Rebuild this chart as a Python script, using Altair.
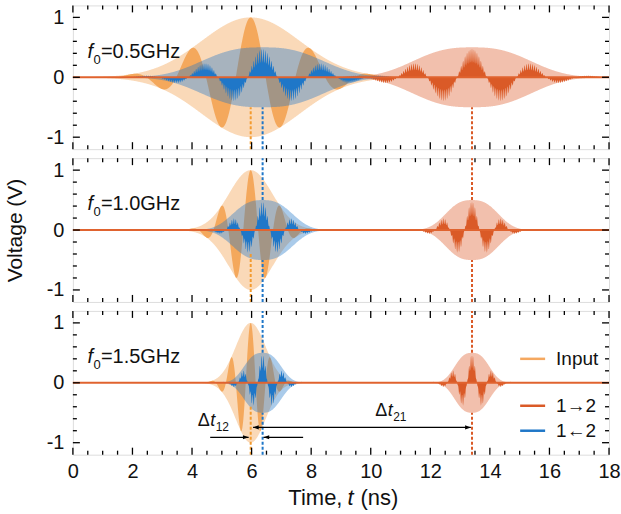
import numpy as np
import pandas as pd
import altair as alt

FONT = "Liberation Sans"

# ---------------- values ----------------
f0_ghz = [0.5, 1.0, 1.5]
f0_text = ["=0.5GHz", "=1.0GHz", "=1.5GHz"]

input_center_ns = 5.97
input_peak_v = 1.0
input_sigma_ns = [1.65, 0.73, 0.50]

back_center_ns = 6.37      # 1<-2
fwd_center_ns = 13.40      # 1->2
out_env_peak_v = 0.50
back_env_width_ns = [2.45, 1.20, 0.75]
fwd_env_width_ns = [2.37, 1.06, 0.70]
out_env_order = 2.7
out_lobe_peak_v = 0.48
ripple_ghz = 15.0
ripple_depth = 0.5

# dashed marker segments (V)
input_marker = [[(-1.2, -0.50)], [(-1.2, -0.38)], [(-1.2, -0.40)]]
back_marker = [[(-1.2, -0.50)], [(-1.2, -0.50), (0.50, 1.2)], [(-1.2, -0.50), (0.50, 1.2)]]
fwd_marker = [[(-1.2, -0.50)], [(-1.2, -0.50), (0.50, 1.2)], [(-1.2, -0.50), (0.50, 1.2)]]

x_major = [0, 2, 4, 6, 8, 10, 12, 14, 16, 18]
x_minor = [k * 0.5 for k in range(37) if k % 4 != 0]
y_major = [-1, 0, 1]
y_minor = [-0.8, -0.6, -0.4, -0.2, 0.2, 0.4, 0.6, 0.8]

# colours
C_IN = "#F39B45"
C_IN_DASH = "#F39B2F"
C_BACK = "#1F77C8"
C_FWD = "#DA5A27"
C_FWD_ENV = "#DC5A28"

W, H = 537, 144
xscale = alt.Scale(domain=[0, 18], nice=False, zero=False)
yscale = alt.Scale(domain=[-1.2, 1.2], nice=False, zero=False)


def build_df(i):
    f = f0_ghz[i]
    sig = input_sigma_ns[i]
    t = np.round(np.arange(0, 1801) * 0.01, 2)
    ti = t - input_center_ns
    ie = input_peak_v * np.exp(-ti ** 2 / (2 * sig ** 2))
    isg = ie * np.cos(2 * np.pi * f * ti)

    def out(c, w):
        d = t - c
        env = out_env_peak_v * np.exp(-(np.abs(d) / w) ** out_env_order)
        rip = 1 - ripple_depth * (0.5 + 0.5 * np.cos(2 * np.pi * ripple_ghz * d))
        s = out_lobe_peak_v * np.exp(-d ** 2 / (2 * sig ** 2)) * np.cos(2 * np.pi * f * d) * rip
        return env, s

    be, bs = out(back_center_ns, back_env_width_ns[i])
    fe, fs = out(fwd_center_ns, fwd_env_width_ns[i])
    df = pd.DataFrame({"t": t, "ie": ie, "ien": -ie, "is": isg,
                       "be": be, "ben": -be, "bs": bs,
                       "fe": fe, "fen": -fe, "fs": fs}).round(4)
    keep = (df[["ie", "be", "fe"]].abs().max(axis=1) > 2e-3)
    keep = keep | keep.shift(1, fill_value=True) | keep.shift(-1, fill_value=True)
    return df[keep].reset_index(drop=True)


def make_panel(i):
    last = (i == 2)
    xaxis = alt.Axis(values=x_major, ticks=False, domain=False, grid=False, title=None,
                     labelFontSize=20, labelPadding=7, labelColor="#111", labelFont=FONT,
                     labelFlush=False, labelOverlap=False) if last else None
    yaxis = alt.Axis(values=y_major, ticks=False, domain=False, grid=False,
                     title="Voltage (V)" if i == 1 else None,
                     titleFontSize=21, titleFontWeight="normal", titlePadding=21,
                     titleFont=FONT, titleColor="#111",
                     labelFontSize=20, labelPadding=9, labelColor="#111", labelFont=FONT,
                     labelExpr="replace(datum.label, '\u2212', '-')")

    def X(f):
        return alt.X(f"{f}:Q", scale=xscale, axis=xaxis)

    def Y(f):
        return alt.Y(f"{f}:Q", scale=yscale, axis=yaxis)

    df = build_df(i)
    base = alt.Chart(df)
    layers = [
        base.mark_area(color=C_IN, opacity=0.38, orient="vertical").encode(x=X("t"), y=Y("ie"), y2="ien:Q"),
        base.mark_area(color=C_IN, opacity=0.8, orient="vertical").encode(x=X("t"), y=Y("is"), y2=alt.datum(0)),
        base.mark_area(color=C_FWD_ENV, opacity=0.38, orient="vertical").encode(x=X("t"), y=Y("fe"), y2="fen:Q"),
        base.mark_area(color=C_FWD, opacity=1.0, orient="vertical").encode(x=X("t"), y=Y("fs"), y2=alt.datum(0)),
        base.mark_area(color=C_BACK, opacity=0.38, orient="vertical").encode(x=X("t"), y=Y("be"), y2="ben:Q"),
        base.mark_area(color=C_BACK, opacity=1.0, orient="vertical").encode(x=X("t"), y=Y("bs"), y2=alt.datum(0)),
    ]

    # dashed centre markers
    rows = []
    for (a, b) in input_marker[i]:
        rows.append({"t": input_center_ns, "v": a, "v2": b, "c": C_IN_DASH})
    for (a, b) in back_marker[i]:
        rows.append({"t": back_center_ns, "v": a, "v2": b, "c": C_BACK})
    for (a, b) in fwd_marker[i]:
        rows.append({"t": fwd_center_ns, "v": a, "v2": b, "c": C_FWD})
    layers.append(alt.Chart(pd.DataFrame(rows)).mark_rule(strokeDash=[3, 2], strokeWidth=2).encode(
        x=X("t"), y=Y("v"), y2="v2:Q", color=alt.Color("c:N", scale=None)))

    # zero line
    layers.append(alt.Chart(pd.DataFrame({"v": [0]})).mark_rule(color="#E0632F", strokeWidth=2).encode(y=Y("v")))

    # inward ticks on all four sides
    for vals, ln in ((x_major, 7), (x_minor, 4)):
        d = alt.Chart(pd.DataFrame({"v": vals}))
        layers.append(d.mark_rule(color="black", strokeWidth=1.3).encode(x=X("v"), y=alt.value(H), y2=alt.value(H - ln)))
        layers.append(d.mark_rule(color="black", strokeWidth=1.3).encode(x=X("v"), y=alt.value(0), y2=alt.value(ln)))
    for vals, ln in ((y_major, 7), (y_minor, 4)):
        d = alt.Chart(pd.DataFrame({"v": vals}))
        layers.append(d.mark_rule(color="black", strokeWidth=1.3).encode(y=Y("v"), x=alt.value(0), x2=alt.value(ln)))
        layers.append(d.mark_rule(color="black", strokeWidth=1.3).encode(y=Y("v"), x=alt.value(W), x2=alt.value(W - ln)))

    # panel label  f0=...GHz
    lab = alt.Chart(pd.DataFrame({"t": [0.49], "v": [0.33]}))
    layers.append(lab.mark_text(text="f", font=FONT, fontSize=20, fontStyle="italic", align="left",
                                baseline="alphabetic", color="#111").encode(x=X("t"), y=Y("v")))
    layers.append(lab.mark_text(text="0", font=FONT, fontSize=13, align="left", dx=6, dy=6,
                                baseline="alphabetic", color="#111").encode(x=X("t"), y=Y("v")))
    layers.append(lab.mark_text(text=f0_text[i], font=FONT, fontSize=20, align="left", dx=13.5,
                                baseline="alphabetic", color="#111").encode(x=X("t"), y=Y("v")))

    if last:
        # arrows
        arrows = pd.DataFrame({"t": [6.05, 4.61, 7.73], "t2": [13.36, 5.90, 6.40], "v": [-0.745, -0.91, -0.91]})
        layers.append(alt.Chart(arrows).mark_rule(color="black", strokeWidth=1.3).encode(
            x=X("t"), x2="t2:Q", y=Y("v")))
        heads_r = pd.DataFrame({"t": [13.36, 5.90], "v": [-0.745, -0.91]})
        heads_l = pd.DataFrame({"t": [6.05, 6.40], "v": [-0.745, -0.91]})
        layers.append(alt.Chart(heads_r).mark_point(shape="M0,0L-1,-0.36L-1,0.36Z", size=130, filled=True,
                                                    color="black", opacity=1).encode(x=X("t"), y=Y("v")))
        layers.append(alt.Chart(heads_l).mark_point(shape="M0,0L1,-0.36L1,0.36Z", size=130, filled=True,
                                                    color="black", opacity=1).encode(x=X("t"), y=Y("v")))
        # delta-t labels
        for (tx, vy, sub) in ((4.19, -0.728, "12"), (10.15, -0.562, "21")):
            dl = alt.Chart(pd.DataFrame({"t": [tx], "v": [vy]}))
            layers.append(dl.mark_text(text="\u0394", font=FONT, fontSize=18, align="left", baseline="alphabetic",
                                       color="#111").encode(x=X("t"), y=Y("v")))
            layers.append(dl.mark_text(text="t", font=FONT, fontSize=18, fontStyle="italic", align="left",
                                       dx=12.5, baseline="alphabetic", color="#111").encode(x=X("t"), y=Y("v")))
            layers.append(dl.mark_text(text=sub, font=FONT, fontSize=12, align="left", dx=18, dy=5,
                                       baseline="alphabetic", color="#111").encode(x=X("t"), y=Y("v")))
        # legend
        one = alt.Chart(pd.DataFrame({"a": [0]}))
        for (yy, col, txt) in ((48, "#F5A860", "Input"), (95, C_FWD, "1\u21922"), (120, C_BACK, "1\u21902")):
            layers.append(one.mark_rule(color=col, strokeWidth=2.5).encode(
                x=alt.value(448), x2=alt.value(473), y=alt.value(yy)))
            layers.append(one.mark_text(text=txt, font=FONT, fontSize=19, align="left", baseline="middle",
                                        color="#111").encode(x=alt.value(484), y=alt.value(yy)))
        # x title with italic t
        layers.append(one.mark_text(text="Time,", font=FONT, fontSize=22, align="right", baseline="alphabetic",
                                    color="#111").encode(x=alt.value(270), y=alt.value(194)))
        layers.append(one.mark_text(text="t", font=FONT, fontSize=22, fontStyle="italic", align="left",
                                    baseline="alphabetic", color="#111").encode(x=alt.value(275), y=alt.value(194)))
        layers.append(one.mark_text(text="(ns)", font=FONT, fontSize=22, align="left", baseline="alphabetic",
                                    color="#111").encode(x=alt.value(288), y=alt.value(194)))

    return alt.layer(*layers).properties(width=W, height=H)


chart = alt.vconcat(make_panel(0), make_panel(1), make_panel(2), spacing=5).properties(
    padding={"left": 3, "top": 3, "right": 0, "bottom": 0}
).configure_view(stroke="black", strokeWidth=2).configure(font=FONT)

chart.save("out.html", embed_options={"renderer": "svg", "actions": False})
